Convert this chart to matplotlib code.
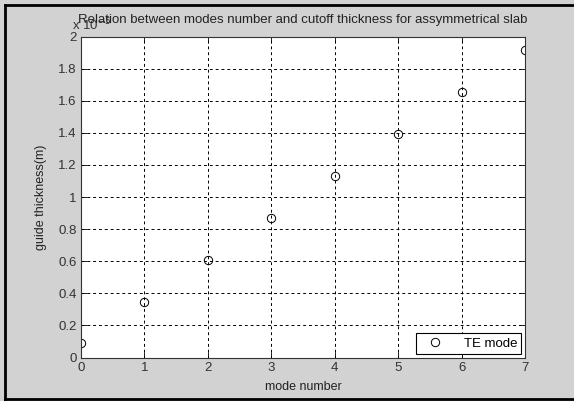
import numpy as np
import matplotlib
matplotlib.use('Agg')
import matplotlib.pyplot as plt
from matplotlib.lines import Line2D

# mode number vs cutoff thickness (units of 1e-5 m)
modes = [0, 1, 2, 3, 4, 5, 6, 7]
thickness = [0.088, 0.347, 0.609, 0.871, 1.133, 1.393, 1.655, 1.917]

bg = '#d2d2d2'
plt.rcParams['font.family'] = 'Liberation Sans'
plt.rcParams['font.size'] = 8

fig = plt.figure(figsize=(5.74, 4.01), dpi=100, facecolor=bg)
ax = fig.add_axes([81/574, 1-357.5/401, 444/574, 321/401])
ax.set_facecolor('white')

ax.plot(modes, thickness, linestyle='None', marker='o', markersize=6,
        markerfacecolor='none', markeredgecolor='black', markeredgewidth=0.7,
        label='TE mode')

ax.set_xlim(0, 7)
ax.set_ylim(0, 2)
ax.set_xticks(range(8))
ax.set_yticks(np.arange(0, 2.01, 0.2))
ax.set_yticklabels(['0', '0.2', '0.4', '0.6', '0.8', '1', '1.2', '1.4', '1.6', '1.8', '2'])
ax.tick_params(direction='in', length=4, width=0.6, labelsize=9.5, pad=3,
               top=True, right=True, colors='black', labelcolor='#333333')
ax.grid(True, color='black', linestyle=(0, (3, 3)), linewidth=0.7)
for s in ax.spines.values():
    s.set_linewidth(0.8)
    s.set_color('#333333')

ax.set_title('Relation between modes number and cutoff thickness for assymmetrical slab',
             fontsize=9.5, pad=10, color='#222222')
ax.set_xlabel('mode number', fontsize=9, labelpad=5, color='#222222')
ax.set_ylabel('guide thickness(m)', fontsize=9, labelpad=8, color='#222222')
ax.text(-0.02, 1.01, r'x 10$^{-5}$', transform=ax.transAxes, fontsize=9.5,
        ha='left', va='bottom', color='#333333')

leg = ax.legend(loc='lower right', fancybox=False, framealpha=1, edgecolor='black',
                fontsize=9.5, borderaxespad=0.3, handletextpad=1.1, borderpad=0.3,
                handlelength=2.2)
leg.get_frame().set_linewidth(0.8)

# window frame
for xs, ys in [([5/574, 5/574], [0, 396/401]), ([5/574, 1], [396/401, 396/401]),
               ([5/574, 1], [2/401, 2/401])]:
    fig.add_artist(Line2D(xs, ys, color='black', linewidth=2, transform=fig.transFigure))

fig.savefig('out.png', dpi=100, facecolor=bg)
